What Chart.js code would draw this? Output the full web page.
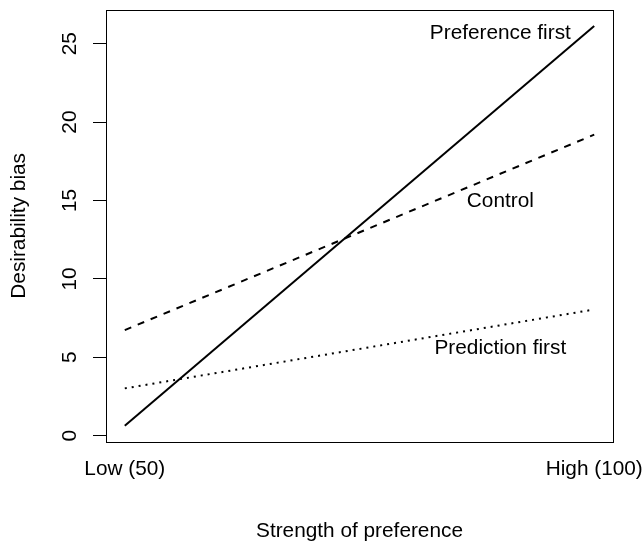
<!DOCTYPE html>
<html>
<head>
<meta charset="utf-8">
<script src="https://cdn.jsdelivr.net/npm/chart.js@4"></script>
<style>
  html, body { margin: 0; padding: 0; background: #fff; }
  #wrap { width: 643px; height: 541px; }
</style>
</head>
<body>
<div id="wrap"><canvas id="grafico" width="643" height="541"></canvas></div>
<script>
// DATI
const strength = [50, 100];
const preferenceFirst = [0.64, 26.13];
const control = [6.74, 19.2];
const predictionFirst = [3.02, 8.05];

const yTicks = [0, 5, 10, 15, 20, 25];
const xTicks = [50, 100];
const xTickLabels = ['Low (50)', 'High (100)'];

// etichette dentro il grafico: [testo, x, y]
const lineLabels = [
  ['Preference first', 90, 25.68],
  ['Control', 90, 14.96],
  ['Prediction first', 90, 5.56]
];

const FONT = '20.8px "Liberation Sans", Arial, sans-serif';

function punti(ys) {
  return strength.map((x, i) => ({ x: x, y: ys[i] }));
}

// plugin per box, etichette ruotate e testi
const testiR = {
  id: 'testiR',
  afterDraw(chart) {
    const c = chart.ctx;
    const a = chart.chartArea;
    const sx = chart.scales.x, sy = chart.scales.y;
    c.save();
    c.strokeStyle = '#000';
    c.lineWidth = 1;
    c.strokeRect(Math.round(a.left) + 0.5, Math.round(a.top) + 0.5, Math.round(a.right - a.left), Math.round(a.bottom - a.top));

    c.fillStyle = '#000';
    c.font = FONT;

    // etichette asse y ruotate
    yTicks.forEach(v => {
      c.save();
      c.translate(76, sy.getPixelForValue(v));
      c.rotate(-Math.PI / 2);
      c.textAlign = 'center';
      c.textBaseline = 'alphabetic';
      c.fillText(String(v), 0, 0);
      c.restore();
    });

    // etichette asse x
    c.textAlign = 'center';
    c.textBaseline = 'alphabetic';
    xTicks.forEach((v, i) => c.fillText(xTickLabels[i], sx.getPixelForValue(v), 475));

    // titoli assi
    c.fillText('Strength of preference', (a.left + a.right) / 2, 537);
    c.save();
    c.translate(25, (a.top + a.bottom) / 2);
    c.rotate(-Math.PI / 2);
    c.fillText('Desirability bias', 0, 0);
    c.restore();

    // testi delle linee
    c.textBaseline = 'middle';
    lineLabels.forEach(l => c.fillText(l[0], sx.getPixelForValue(l[1]), sy.getPixelForValue(l[2])));
    c.restore();
  }
};

const ctx = document.getElementById('grafico').getContext('2d');
new Chart(ctx, {
  type: 'scatter',
  data: {
    datasets: [
      { label: 'Preference first', data: punti(preferenceFirst), showLine: true, borderColor: '#000', borderWidth: 2, pointRadius: 0 },
      { label: 'Control', data: punti(control), showLine: true, borderColor: '#000', borderWidth: 2, borderDash: [7, 7], pointRadius: 0 },
      { label: 'Prediction first', data: punti(predictionFirst), showLine: true, borderColor: '#000', borderWidth: 2, borderDash: [2, 5], pointRadius: 0 }
    ]
  },
  options: {
    responsive: false,
    animation: false,
    layout: { padding: { left: 0, top: 10, right: 30, bottom: 0 } },
    plugins: { legend: { display: false }, tooltip: { enabled: false } },
    scales: {
      x: {
        type: 'linear', min: 48, max: 102,
        afterBuildTicks: s => { s.ticks = xTicks.map(v => ({ value: v })); },
        afterFit: s => { s.height = 99.3; },
        grid: { display: false, drawTicks: false },
        border: { display: false },
        ticks: { display: false }
      },
      y: {
        type: 'linear', min: -0.38, max: 27.15,
        afterBuildTicks: s => { s.ticks = yTicks.map(v => ({ value: v })); },
        afterFit: s => { s.width = 106; },
        grid: { drawOnChartArea: false, drawTicks: true, tickLength: 13, color: '#000', lineWidth: 1 },
        border: { display: false },
        ticks: { display: false }
      }
    }
  },
  plugins: [testiR]
});
</script>
</body>
</html>
